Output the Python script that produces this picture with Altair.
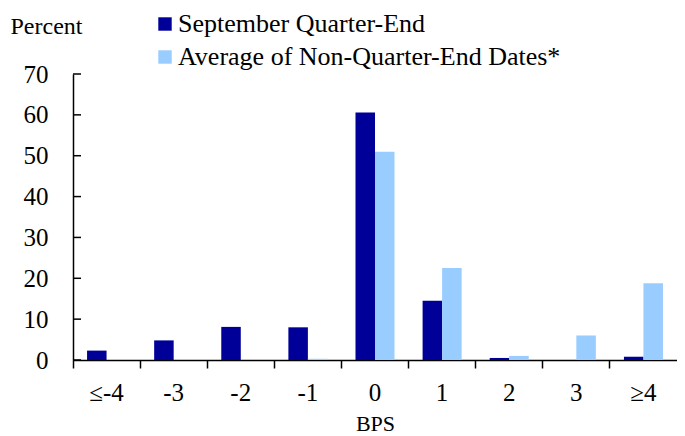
import altair as alt
import pandas as pd

cats = ["≤-4", "-3", "-2", "-1", "0", "1", "2", "3", "≥4"]
series_names = ["September Quarter-End", "Average of Non-Quarter-End Dates*"]
sept = [2.3, 4.8, 8.1, 8.0, 60.6, 14.5, 0.5, 0.0, 0.8]
avg = [0.0, 0.0, 0.0, 0.3, 51.0, 22.5, 1.0, 6.0, 18.8]
y_ticks = [0, 10, 20, 30, 40, 50, 60, 70]
colors = ["#000099", "#99CCFF"]

rows = []
for c, a, b in zip(cats, sept, avg):
    rows.append({"cat": c, "series": series_names[0], "value": a})
    rows.append({"cat": c, "series": series_names[1], "value": b})
df = pd.DataFrame(rows)
tick_df = pd.DataFrame({"v": y_ticks})

FONT = "Liberation Serif"

bars = alt.Chart(df).mark_bar().encode(
    x=alt.X("cat:N", sort=cats,
            scale=alt.Scale(paddingInner=0, paddingOuter=0),
            axis=alt.Axis(title="BPS", labelAngle=0, bandPosition=0,
                          labelFont=FONT, labelFontSize=25, labelColor="black",
                          labelPadding=12, tickSize=8, tickColor="black",
                          domainColor="black", domainWidth=1.5, tickWidth=1.5,
                          titleFont=FONT, titleFontSize=22, titleFontWeight="normal",
                          titleColor="black", titleY=63, titleBaseline="middle",
                          grid=False)),
    xOffset=alt.XOffset("series:N", sort=series_names,
                        scale=alt.Scale(paddingInner=0, paddingOuter=0.72)),
    y=alt.Y("value:Q", scale=alt.Scale(domain=[0, 70], nice=False),
            axis=alt.Axis(values=y_ticks, title="Percent", titleAngle=0,
                          titleAlign="left", titleX=-63, titleY=-48,
                          titleBaseline="middle", titleFont=FONT,
                          titleFontSize=24, titleFontWeight="normal",
                          titleColor="black", labelFont=FONT, labelFontSize=25,
                          labelColor="black", tickSize=0, labelPadding=25,
                          domainColor="black", domainWidth=1.5, grid=False)),
    color=alt.Color("series:N", sort=series_names,
                    scale=alt.Scale(domain=series_names, range=colors),
                    title=None,
                    legend=alt.Legend(orient="none", legendX=79, legendY=-63,
                                      symbolType="square", symbolSize=180,
                                      symbolStrokeWidth=0, labelFont=FONT,
                                      labelFontSize=26, labelColor="black",
                                      labelOffset=0, rowPadding=7,
                                      labelLimit=600)),
)

ticks = alt.Chart(tick_df).mark_rule(color="black", strokeWidth=1.5).encode(
    y=alt.Y("v:Q"),
    x=alt.value(0),
    x2=alt.value(8),
)

chart = alt.layer(bars, ticks).properties(
    width=604,
    height=286,
    autosize=alt.AutoSizeParams(type="none"),
    padding={"left": 65, "top": 66, "right": 0, "bottom": 76},
    background="white",
).configure_view(stroke=None)

chart.save("out.html", embed_options={"renderer": "svg", "actions": False})
